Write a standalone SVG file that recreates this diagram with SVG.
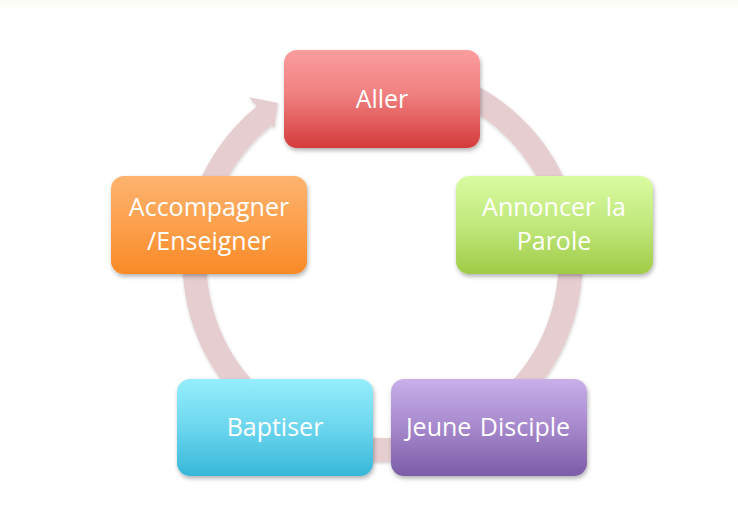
<svg xmlns="http://www.w3.org/2000/svg" width="738" height="509" viewBox="0 0 738 509">
  <defs>
    <style>
      .box { stroke: none; }
      .lbl { font-family: "Open Sans", "Noto Sans", "DejaVu Sans", sans-serif; font-size: 25px; fill: #ffffff; text-anchor: middle; }
      .ring { fill: #e6cdd0; }
    </style>
    <filter id="shadow" x="-10%" y="-10%" width="125%" height="130%">
      <feDropShadow dx="1" dy="2.5" stdDeviation="2.2" flood-color="#000000" flood-opacity="0.3"/>
    </filter>
    <filter id="rshadow" x="-10%" y="-10%" width="120%" height="120%">
      <feDropShadow dx="0.5" dy="1.5" stdDeviation="1.5" flood-color="#000000" flood-opacity="0.18"/>
    </filter>
    <linearGradient id="gRed" x1="0" y1="0" x2="0" y2="1">
      <stop offset="0" stop-color="#fb9d9d"/>
      <stop offset="0.45" stop-color="#f08080"/>
      <stop offset="1" stop-color="#d53b3b"/>
    </linearGradient>
    <linearGradient id="gOrange" x1="0" y1="0" x2="0" y2="1">
      <stop offset="0" stop-color="#fdb36f"/>
      <stop offset="0.5" stop-color="#fca04c"/>
      <stop offset="1" stop-color="#f98a27"/>
    </linearGradient>
    <linearGradient id="gGreen" x1="0" y1="0" x2="0" y2="1">
      <stop offset="0" stop-color="#dafba2"/>
      <stop offset="0.5" stop-color="#c0e87c"/>
      <stop offset="1" stop-color="#9fcb47"/>
    </linearGradient>
    <linearGradient id="gCyan" x1="0" y1="0" x2="0" y2="1">
      <stop offset="0" stop-color="#95eefc"/>
      <stop offset="0.5" stop-color="#6cd6ee"/>
      <stop offset="1" stop-color="#37b7d8"/>
    </linearGradient>
    <linearGradient id="gPurple" x1="0" y1="0" x2="0" y2="1">
      <stop offset="0" stop-color="#c9afea"/>
      <stop offset="0.5" stop-color="#a688cc"/>
      <stop offset="1" stop-color="#7b5ca7"/>
    </linearGradient>
    <linearGradient id="gTop" x1="0" y1="0" x2="0" y2="1">
      <stop offset="0" stop-color="#fbfbf3"/>
      <stop offset="1" stop-color="#ffffff"/>
    </linearGradient>
  </defs>

  <rect x="0" y="0" width="738" height="509" fill="#ffffff"/>
  <rect x="0" y="0" width="738" height="12" fill="url(#gTop)"/>

  <g id="connectors">
    <path class="ring" filter="url(#rshadow)" d="M434.3,68.8 A200,200 0 1 1 256.6,106.6 L249.1,97.3 L278,103 L274.3,128.3 L271.7,125.2 A176,176 0 1 0 428.1,92.0 Z"/>
  </g>

  <g id="node-aller">
    <rect class="box" x="284" y="50" width="196" height="98" rx="13" fill="url(#gRed)" filter="url(#shadow)"/>
    <text class="lbl" x="382" y="108">Aller</text>
  </g>

  <g id="node-annoncer">
    <rect class="box" x="456" y="176" width="197" height="98" rx="13" fill="url(#gGreen)" filter="url(#shadow)"/>
    <text class="lbl" x="554" y="216" word-spacing="4">Annoncer la</text>
    <text class="lbl" x="554" y="250">Parole</text>
  </g>

  <g id="node-jeune">
    <rect class="box" x="391" y="379" width="196" height="97" rx="13" fill="url(#gPurple)" filter="url(#shadow)"/>
    <text class="lbl" x="488" y="436" word-spacing="2">Jeune Disciple</text>
  </g>

  <g id="node-baptiser">
    <rect class="box" x="177" y="379" width="196" height="97" rx="13" fill="url(#gCyan)" filter="url(#shadow)"/>
    <text class="lbl" x="275" y="436">Baptiser</text>
  </g>

  <g id="node-accompagner">
    <rect class="box" x="111" y="176" width="196" height="98" rx="13" fill="url(#gOrange)" filter="url(#shadow)"/>
    <text class="lbl" x="209" y="216">Accompagner</text>
    <text class="lbl" x="209" y="250">/Enseigner</text>
  </g>
</svg>
